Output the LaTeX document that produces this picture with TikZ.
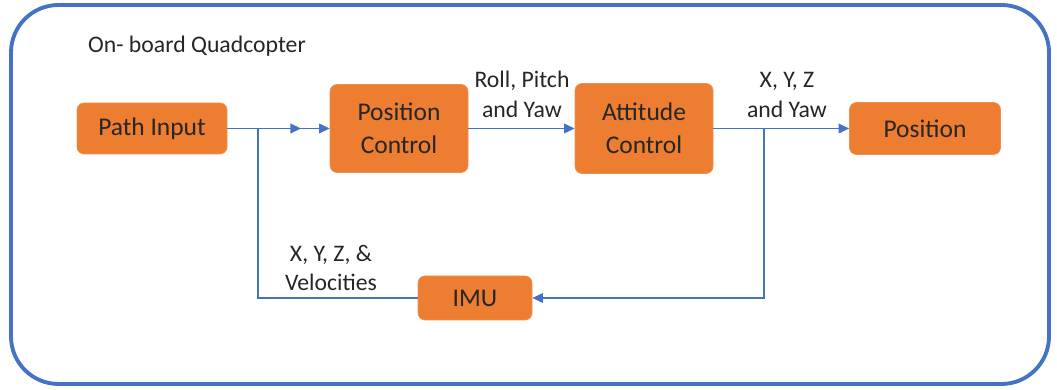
\documentclass[tikz,border=0pt]{standalone}
\usepackage{fontspec}
\setmainfont{Carlito}
\usetikzlibrary{arrows.meta}
\definecolor{boxorange}{HTML}{ED7D31}
\definecolor{lineblue}{HTML}{4472C4}
\definecolor{inktext}{HTML}{262626}
\tikzstyle{block}=[rectangle, rounded corners=4pt, fill=boxorange, draw=boxorange!85!white, thin, align=center, text=inktext, font=\fontsize{14.5}{19}\selectfont, inner sep=0pt, anchor=center]
\tikzstyle{annot}=[align=center, text=inktext, font=\fontsize{13.5}{17}\selectfont]
\tikzstyle{flow}=[draw=lineblue, line width=0.85pt, -{Triangle[length=6pt,width=5.5pt]}]
\tikzstyle{wire}=[draw=lineblue, line width=0.85pt]

\begin{document}
\begin{tikzpicture}
	\useasboundingbox (0,0) rectangle (21.14,7.8);

	% outer frame
	\draw[lineblue, line width=2.2pt, rounded corners=0.95cm] (0.22,0.12) rectangle (20.98,7.7);
	\node[annot, anchor=west](title) at (1.64,6.88){On- board Quadcopter};

	\node[block, minimum width=3cm, minimum height=1.02cm](pathin) at (3.04,5.23){Path Input};
	\node[block, minimum width=2.76cm, minimum height=1.76cm](posctrl) at (7.98,5.23){Position\\Control};
	\node[block, minimum width=2.76cm, minimum height=1.8cm](attctrl) at (12.88,5.23){Attitude\\Control};
	\node[block, minimum width=3.02cm, minimum height=1.04cm](position) at (18.5,5.23){Position};
	\node[block, minimum width=2.28cm, minimum height=0.88cm](imu) at (9.5,1.84){IMU};

	\coordinate (split) at (15.28,5.23);
	\coordinate (fbdown) at (15.28,1.84);
	\coordinate (fbleft) at (5.16,1.84);
	\coordinate (fbup) at (5.16,5.23);
	\coordinate (midtip) at (6.02,5.23);

	\draw[flow] (pathin) -- (posctrl);
	\draw[flow] (posctrl) -- (attctrl);
	\draw[flow] (attctrl) -- (position);
	\draw[flow] (split) -- (fbdown) -- (imu);
	\draw[wire] (imu) -- (fbleft) -- (fbup);
	\draw[flow] (fbup) -- (midtip);

	\node[annot](rpy) at (10.44,5.92){Roll, Pitch\\and Yaw};
	\node[annot](xyz) at (15.74,5.9){X, Y, Z\\and Yaw};
	\node[annot](vel) at (6.62,2.44){X, Y, Z, \&\\Velocities};

\end{tikzpicture}
\end{document}
